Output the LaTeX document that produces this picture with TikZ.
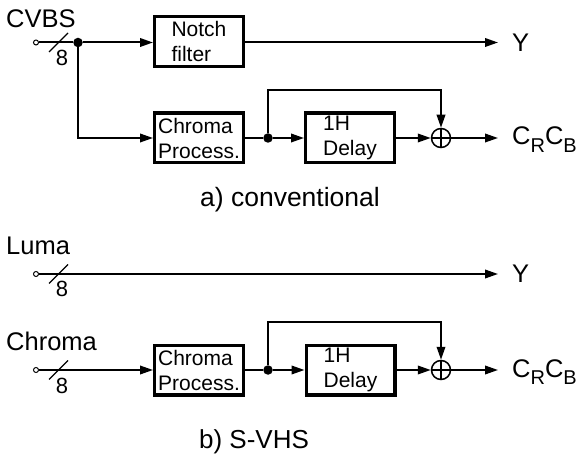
\documentclass[tikz,border=0pt]{standalone}
\usepackage{fontspec}
\setmainfont{Liberation Sans}
\usetikzlibrary{arrows.meta}
\newcommand\labfont{\fontsize{25.5}{30}\selectfont}
\newcommand\boxfont{\fontsize{21}{25}\selectfont}
\newcommand\busfont{\fontsize{22}{24}\selectfont}
\newcommand\subfont{\fontsize{20}{20}\selectfont}
\begin{document}
\begin{tikzpicture}[x=1pt,y=-1pt,
  wire/.style={line width=2pt},
  arr/.style={wire,-{Triangle[length=13pt,width=8.5pt]}},
  blk/.style={draw,line width=3.2pt,minimum width=88.8pt,minimum height=49.8pt,align=left,font=\boxfont,inner sep=0pt},
  jdot/.style={circle,fill,inner sep=0pt,minimum size=9.5pt},
  port/.style={circle,draw,line width=1pt,inner sep=0pt,minimum size=5pt},
  sumnode/.style={circle,draw,line width=1.5pt,minimum size=19pt,inner sep=0pt},
  txt/.style={inner sep=0pt,anchor=base west,font=\labfont},
  bus/.style={line width=1.3pt},
  busnum/.style={inner sep=0pt,anchor=base,font=\busfont}]
\useasboundingbox (0,0) rectangle (581,454);

% ---------- a) conventional ----------
\node[txt] (cvbs) at (6,28) {CVBS};
\node[port] (in1) at (36,42.5) {};
\node[jdot] (j1) at (78,42.5) {};
\node[blk] (notch) at (199,41.5) {Notch\\filter};
\coordinate (yo1) at (498,42.5);
\node[txt] (y1) at (512,51.5) {Y};
\draw[wire] (in1) -- (j1);
\draw[bus] (49,52) -- (68,33);
\node[busnum] (n1) at (62,66) {8};
\draw[arr] (j1) -- (j1 -| notch.west);
\draw[arr] (notch.east |- yo1) -- (yo1);

\node[blk] (chroma1) at (199,138) {Chroma\\Process.};
\node[jdot] (d1) at (268,138) {};
\node[blk] (delay1) at (350,138) {1H\\Delay};
\node[sumnode] (add1) at (441,138) {};
\draw[line width=1.3pt] (add1.north) -- (add1.south) (add1.west) -- (add1.east);
\coordinate (fb1) at (268,90);
\coordinate (out1) at (498,138);
\node[txt] (c1) at (512,145) {C\raisebox{-8pt}{\subfont R}C\raisebox{-8pt}{\subfont B}};
\draw[arr] (j1) |- (chroma1.west);
\draw[wire] (chroma1.east) -- (d1);
\draw[arr] (d1) -- (delay1.west);
\draw[arr] (d1) -- (fb1) -| (add1.north);
\draw[arr] (delay1.east) -- (add1.west);
\draw[arr] (add1.east) -- (out1);
\node[inner sep=0pt,anchor=base,font=\fontsize{26.5}{30}\selectfont] (capa) at (290,206.5) {a) conventional};

% ---------- b) S-VHS ----------
\node[txt] (luma) at (6,255) {Luma};
\node[port] (in2) at (36,274) {};
\coordinate (yo2) at (498,274);
\node[txt] (y2) at (512,283) {Y};
\draw[arr] (in2) -- (yo2);
\draw[bus] (49,283.5) -- (68,264.5);
\node[busnum] (n2) at (62,297) {8};

\node[txt] (chr) at (6,350) {Chroma};
\node[port] (in3) at (36,370) {};
\node[blk] (chroma2) at (199,370) {Chroma\\Process.};
\draw[arr] (in3) -- (chroma2.west);
\draw[bus] (49,379.5) -- (68,360.5);
\node[busnum] (n3) at (62,393) {8};
\node[jdot] (d2) at (268,370) {};
\node[blk] (delay2) at (350.5,370) {1H\\Delay};
\node[sumnode] (add2) at (441,370) {};
\draw[line width=1.3pt] (add2.north) -- (add2.south) (add2.west) -- (add2.east);
\coordinate (fb2) at (268,322);
\coordinate (out2) at (498,370);
\node[txt] (c2) at (512,377) {C\raisebox{-8pt}{\subfont R}C\raisebox{-8pt}{\subfont B}};
\draw[wire] (chroma2.east) -- (d2);
\draw[arr] (d2) -- (delay2.west);
\draw[arr] (d2) -- (fb2) -| (add2.north);
\draw[arr] (delay2.east) -- (add2.west);
\draw[arr] (add2.east) -- (out2);
\node[inner sep=0pt,anchor=base,font=\fontsize{26}{30}\selectfont] (capb) at (254,448) {b) S-VHS};
\end{tikzpicture}
\end{document}
